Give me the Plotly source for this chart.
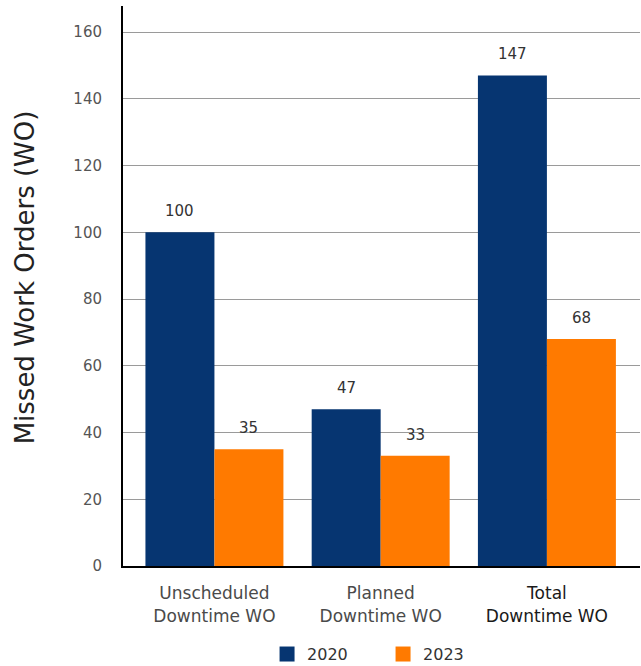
import plotly.graph_objects as go

categories = ["Unscheduled<br>Downtime WO", "Planned<br>Downtime WO", "Total<br>Downtime WO"]
values_2020 = [100, 47, 147]
values_2023 = [35, 33, 68]
series_names = ["2020", "2023"]
y_ticks = [0, 20, 40, 60, 80, 100, 120, 140, 160]
y_title = "Missed Work Orders (WO)"

navy = "#063571"
orange = "#FF7A00"
font_main = "DejaVu Sans, Verdana, sans-serif"
bar_gap = 0.17

fig = go.Figure()
series = [(series_names[0], values_2020, navy), (series_names[1], values_2023, orange)]
for name, vals, col in series:
    fig.add_trace(go.Bar(
        x=list(range(len(categories))), y=vals, name=name, showlegend=False,
        marker=dict(color=col, line=dict(width=0)),
    ))
    # legend swatches drawn as square markers
    fig.add_trace(go.Scatter(
        x=[None], y=[None], mode="markers", name=name,
        marker=dict(symbol="square", size=15, color=col),
    ))

# value labels above each bar
half = (1 - bar_gap) / 4
for k, (name, vals, col) in enumerate(series):
    offset = -half if k == 0 else half
    for i, v in enumerate(vals):
        fig.add_annotation(
            x=i + offset, y=v, xref="x", yref="y", text=str(v), showarrow=False,
            yanchor="bottom", yshift=10,
            font=dict(family=font_main, size=15, color="#333333"),
        )

# vertical axis title
fig.add_annotation(
    x=-0.19, y=0.515, xref="paper", yref="paper", text=y_title, showarrow=False,
    textangle=-90, xanchor="center", yanchor="middle",
    font=dict(family=font_main, size=26, color="#222222"),
)

tick_text = [c if i < 2 else "<span style='color:#1a1a1a'>" + c.replace("<br>", "</span><br><span style='color:#1a1a1a'>") + "</span>"
             for i, c in enumerate(categories)]

fig.update_layout(
    width=641, height=666,
    margin=dict(l=123, r=1, t=6, b=100, autoexpand=False),
    paper_bgcolor="white", plot_bgcolor="white",
    barmode="group", bargap=bar_gap, bargroupgap=0,
    showlegend=True,
    legend=dict(orientation="h", x=0.503, xanchor="center", y=-0.127, yanchor="top",
                font=dict(family=font_main, size=16, color="#333333"),
                entrywidth=71, traceorder="normal"),
    xaxis=dict(range=[-0.55, 2.56], showline=True, linecolor="black", linewidth=2,
               tickmode="array", tickvals=list(range(len(categories))), ticktext=tick_text,
               tickfont=dict(family=font_main, size=17, color="#4a4a4a"),
               ticks="", showgrid=False, ticklabelstandoff=11),
    yaxis=dict(range=[0, 167.8], tickvals=y_ticks, showline=True, linecolor="black", linewidth=2,
               showgrid=True, gridcolor="#9a9a9a", gridwidth=1, zeroline=False,
               tickfont=dict(family=font_main, size=15, color="#555555"),
               ticklabelstandoff=16),
)

fig.write_html("out.html")
